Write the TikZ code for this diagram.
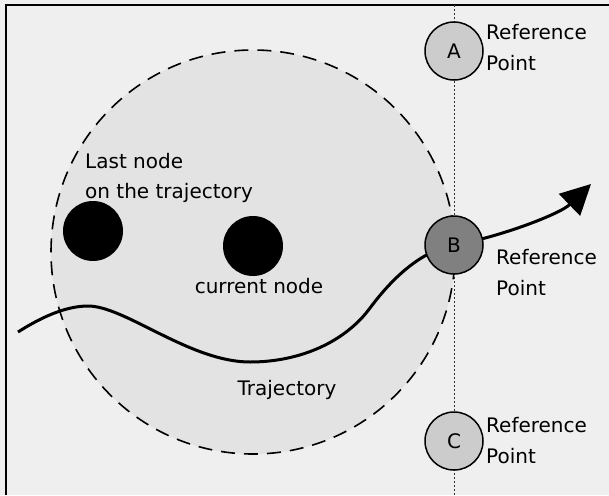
\documentclass[tikz,border=0pt]{standalone}
\usepackage{fontspec}
\setmainfont{DejaVu Sans}
\usetikzlibrary{arrows.meta}
\definecolor{bgc}{HTML}{EFEFEF}
\definecolor{zonec}{HTML}{E3E3E3}
\definecolor{refc}{HTML}{CCCCCC}
\definecolor{curc}{HTML}{808080}
\begin{document}
\begin{tikzpicture}[x=1pt,y=-1pt,
  lbl/.style={font=\fontsize{20}{31}\selectfont, inner sep=0pt, align=left, anchor=north west},
  txt/.style={font=\fontsize{20}{24}\selectfont, inner sep=0pt, anchor=base},
  refpt/.style={circle, draw=black, line width=1.5pt, minimum size=58pt, inner sep=0pt, font=\fontsize{20}{24}\selectfont},
  blackdot/.style={circle, fill=black, minimum size=60pt, inner sep=0pt},
  traj/.style={line width=3pt},
  zone/.style={fill=zonec, draw=black, line width=1.6pt, dash pattern=on 14pt off 9pt},
  dotline/.style={line width=1pt, dash pattern=on 2pt off 2pt, draw=black!80},
]
\useasboundingbox (0,0) rectangle (609,495);
\fill[bgc] (0,0) rectangle (609,495);
\coordinate (fbl) at (6,495);
\coordinate (ftl) at (6,5);
\coordinate (ftr) at (609,5);
\draw[line width=2.4pt] (fbl) -- (ftl) -- (ftr);

% neighbourhood zone
\draw[zone] (253,252) circle[radius=202pt];

% vertical dotted line
\coordinate (vtop) at (454,5);
\coordinate (vbot) at (454,495);
\draw[dotline] (vtop) -- (vbot);

% trajectory
\coordinate (ts) at (18,332);
\coordinate (tpk) at (88,306);
\coordinate (tlow) at (250,362);
\coordinate (trise) at (370,308);
\coordinate (tip) at (591,184);
\coordinate (Bc) at (454,245);
\draw[traj] (ts) .. controls (40,318) and (65,306) .. (tpk)
  .. controls (125,306) and (190,362) .. (tlow)
  .. controls (300,362) and (345,342) .. (trise)
  .. controls (385,288) and (415,252) .. (Bc);
\draw[traj, -{Triangle[length=30pt,width=30pt]}] (Bc) .. controls (500,237) and (560,214) .. (tip);

% reference points
\node[refpt, fill=refc] (A) at (454,51) {A};
\node[refpt, fill=curc] (B) at (Bc) {B};
\node[refpt, fill=refc] (C) at (454,441) {C};

\node[lbl] (ta) at (486,24) {Reference\\Point};
\node[lbl] (tb) at (496,249) {Reference\\Point};
\node[lbl] (tc) at (486,417) {Reference\\Point};

% nodes on trajectory
\node[blackdot] (last) at (93,231) {};
\node[blackdot] (cur) at (253,246) {};
\node[lbl, font=\fontsize{20}{30}\selectfont] (tlast) at (85,153) {Last node\\on the trajectory};
\node[txt] (tcur) at (259,293) {current node};
\node[txt] (ttraj) at (287,395) {Trajectory};
\end{tikzpicture}
\end{document}
